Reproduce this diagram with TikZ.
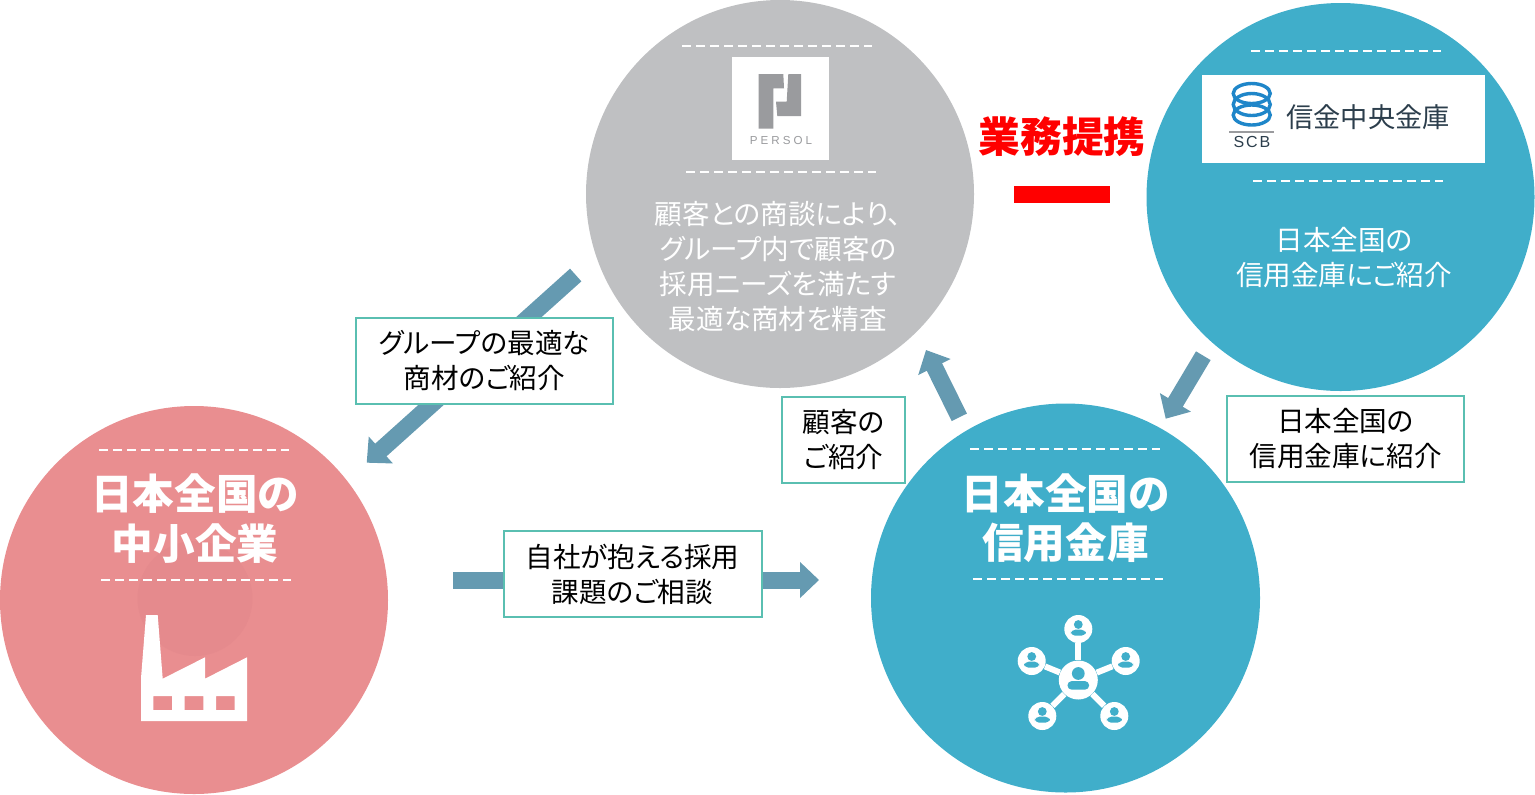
\documentclass[tikz,border=0pt]{standalone}
\usepackage{fontspec}
\setmainfont[RawFeature=+palt]{Noto Sans CJK JP}
\newfontfamily\logofont[LetterSpace=12]{Liberation Sans}
\newfontfamily\markfont[LetterSpace=26]{Liberation Sans}
\usetikzlibrary{arrows.meta}
\definecolor{pinkcirc}{HTML}{E98E90}
\definecolor{pinkshade}{HTML}{E58A8D}
\definecolor{tealcirc}{HTML}{40AECA}
\definecolor{greycirc}{HTML}{BFC0C2}
\definecolor{arrowblue}{HTML}{659AB1}
\definecolor{boxgreen}{HTML}{5ABFB1}
\definecolor{logogrey}{HTML}{9A9B9E}
\definecolor{logoblue}{HTML}{1F86C9}
\definecolor{logodark}{HTML}{2C3E4C}
\tikzset{bigcirc/.style={circle,minimum size=388*0.5pt,inner sep=0pt}}
\tikzset{labelbox/.style={draw=boxgreen,line width=1pt,fill=white,inner sep=0pt,align=center,font=\fontsize{13.8}{17.5}\selectfont}}
\tikzset{circtext/.style={text=white,align=center,inner sep=0pt,font=\fontsize{13.8}{17.5}\selectfont}}
\tikzset{bigtext/.style={text=white,align=center,inner sep=0pt,font=\fontsize{20.8}{24.8}\selectfont\bfseries}}
\tikzset{dashline/.style={white,line width=1pt,dash pattern=on 4.3pt off 2.7pt}}
\tikzset{flowarrow/.style={arrowblue,line width=8.5pt,-{Triangle[length=9.5pt,width=17.5pt]}}}
\tikzset{hubdot/.style={circle,fill=white,inner sep=0pt,minimum size=#1*0.5pt}}
\tikzset{personicon/.pic={
	\fill[tealcirc] (0,-4.5) circle [radius=4.4];
	\fill[tealcirc,rounded corners=2.2pt] (-7.5,6.7) -- (-7.5,0.7) -- (7.5,0.7) -- (7.5,6.7) -- cycle;
}}
\begin{document}
\begin{tikzpicture}[x=0.5pt,y=-0.5pt]
		\useasboundingbox (0,0) rectangle (1535,794);
		\node[bigcirc,fill=pinkcirc] (smes) at (194,600) {};
		\node[bigcirc,fill=greycirc] (persol) at (780,194) {};
		\node[bigcirc,fill=tealcirc] (central) at (1340.5,197) {};
		\node[bigcirc,fill=tealcirc,minimum size=389*0.5pt] (banks) at (1065.5,598) {};
		\node[circle,fill=pinkshade,minimum size=115*0.5pt,inner sep=0pt] (shade) at (195,598.5) {};
		% dashed rules
		\draw[dashline] (682,45.5) -- (872,45.5);
		\draw[dashline] (686,172) -- (876,172);
		\draw[dashline] (1251,50.5) -- (1441,50.5);
		\draw[dashline] (1253,181) -- (1443,181);
		\draw[dashline] (99,450) -- (289,450);
		\draw[dashline] (101,580) -- (291,580);
		\draw[dashline] (970,449) -- (1160,449);
		\draw[dashline] (973,579) -- (1163,579);
		% persol logo
		\node[fill=white,minimum width=97*0.5pt,minimum height=103*0.5pt,inner sep=0pt] (persollogo) at (780.5,108.5) {};
		\fill[logogrey] (758.7,74) -- (783.3,74) -- (784,88.3) -- (773.3,88.3) -- (773.3,128.7) -- (758.7,128.7) -- cycle;
		\fill[logogrey] (788.3,74) -- (801,74) -- (801,116) -- (777.3,116) -- (776,101.7) -- (786.7,101.7) -- cycle;
		\node[text=logogrey,inner sep=0pt,font=\fontsize{5.8}{6}\markfont] (persolname) at (781,140) {PERSOL};
		% scb logo
		\node[fill=white,minimum width=283*0.5pt,minimum height=88*0.5pt,inner sep=0pt] (scblogo) at (1343.5,119) {};
		\draw[logoblue,line width=1.7pt] (1251.7,93.5) ellipse [x radius=18.5,y radius=10];
		\draw[logoblue,line width=1.7pt] (1251.7,104.5) ellipse [x radius=18.5,y radius=11];
		\draw[logoblue,line width=1.7pt] (1251.7,115) ellipse [x radius=18.5,y radius=10];
		\draw[logogrey,line width=0.8pt] (1229,131.7) -- (1274,131.7);
		\node[text=logodark,inner sep=0pt,font=\fontsize{8}{9}\logofont] (scbname) at (1252,141.5) {SCB};
		\node[text=logodark,inner sep=0pt,font=\fontsize{13.6}{15}\selectfont] (scbtext) at (1368,117) {信金中央金庫};
		% circle texts
		\node[circtext] (persoltext) at (778,266.5) {顧客との商談により、\\グループ内で顧客の\\採用ニーズを満たす\\最適な商材を精査};
		\node[circtext] (centraltext) at (1344,257.5) {日本全国の\\信用金庫にご紹介};
		\node[bigtext] (smestext) at (195,518.5) {日本全国の\\中小企業};
		\node[bigtext] (bankstext) at (1065.5,518) {日本全国の\\信用金庫};
		% red partnership
		\node[text=red,inner sep=0pt,font=\fontsize{20.9}{24}\selectfont\bfseries] (tieup) at (1062,137) {業務提携};
		\node[fill=red,minimum width=96*0.5pt,minimum height=17*0.5pt,inner sep=0pt] (tiebar) at (1062,194.5) {};
		% factory
		\fill[white,even odd rule] (146,615) -- (157.7,615) -- (162.7,678.7) -- (205,657.3) -- (205,678.7) -- (247,657.3) -- (247,721) -- (141,721) -- (141,678.3) -- cycle
			(153.3,696) rectangle (172,710) (184.7,696) rectangle (203.3,710) (216,696) rectangle (234.7,710);
		% network
		\node[hubdot=39] (hub) at (1078.3,680) {};
		\foreach \sat/\px/\py in {top/1078.3/629,left/1031.7/661,right/1125.7/661,botl/1042.3/716,botr/1114.3/716}{
			\node[hubdot=28] (\sat) at (\px,\py) {};
			\draw[white,line width=3pt] (hub) -- (\sat);
			\pic at (\px,\py) {personicon};
		}
		\pic[scale=1.45] at (1078.3,680) {personicon};
		% arrows
		\coordinate (a1s) at (575.7,275);
		\coordinate (a1e) at (366.7,462.7);
		\coordinate (a2s) at (453,580);
		\coordinate (a2e) at (819,580);
		\coordinate (a3s) at (959.3,417.3);
		\coordinate (a3e) at (926,350);
		\coordinate (a4s) at (1203.3,355.7);
		\coordinate (a4e) at (1165.7,418.7);
		\draw[flowarrow] (a1s) -- (a1e);
		\draw[flowarrow] (a2s) -- (a2e);
		\draw[flowarrow] (a3s) -- (a3e);
		\draw[flowarrow] (a4s) -- (a4e);
		% label boxes
		\node[labelbox,minimum width=257*0.5pt,minimum height=86*0.5pt] (box1) at (484.5,361) {グループの最適な\\商材のご紹介};
		\node[labelbox,minimum width=258*0.5pt,minimum height=86*0.5pt] (box2) at (632.5,574) {自社が抱える採用\\課題のご相談};
		\node[labelbox,minimum width=123*0.5pt,minimum height=86*0.5pt] (box3) at (843.5,440) {顧客の\\ご紹介};
		\node[labelbox,minimum width=237*0.5pt,minimum height=86*0.5pt] (box4) at (1345.5,439) {日本全国の\\信用金庫に紹介};
\end{tikzpicture}
\end{document}
